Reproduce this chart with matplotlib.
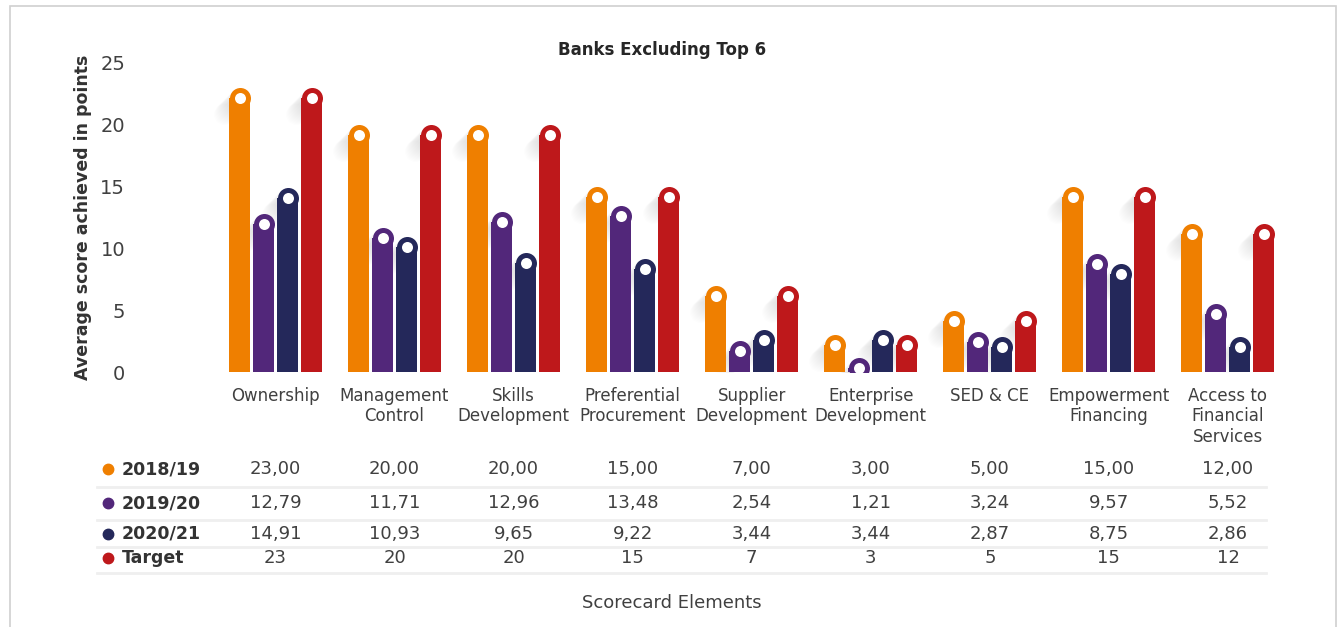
import matplotlib.pyplot as plt
import matplotlib.transforms as mtransforms
from matplotlib.lines import Line2D
from matplotlib.patches import Rectangle

categories = ["Ownership", "Management\nControl", "Skills\nDevelopment",
              "Preferential\nProcurement", "Supplier\nDevelopment",
              "Enterprise\nDevelopment", "SED & CE", "Empowerment\nFinancing",
              "Access to\nFinancial\nServices"]
series_names = ["2018/19", "2019/20", "2020/21", "Target"]
scores_1819 = [23.00, 20.00, 20.00, 15.00, 7.00, 3.00, 5.00, 15.00, 12.00]
scores_1920 = [12.79, 11.71, 12.96, 13.48, 2.54, 1.21, 3.24, 9.57, 5.52]
scores_2021 = [14.91, 10.93, 9.65, 9.22, 3.44, 3.44, 2.87, 8.75, 2.86]
target = [23, 20, 20, 15, 7, 3, 5, 15, 12]

colors = ["#EF7F00", "#52277A", "#24285A", "#BE181B"]
text_col = "#404040"

W, H, DPI = 1341, 627, 100
fig = plt.figure(figsize=(W / DPI, H / DPI), dpi=DPI)
plt.rcParams["font.family"] = ["DejaVu Sans"]

# axes placed in pixel terms
x_left, x_right = 200, 1300
y_top, y_zero = 63, 372
ax = fig.add_axes([x_left / W, 1 - y_zero / H, (x_right - x_left) / W, (y_zero - y_top) / H])
pitch_px = 119.06
first_px = 275.5
ax.set_xlim((x_left - first_px) / pitch_px, (x_right - first_px) / pitch_px)
ax.set_ylim(0, 25)
for s in ax.spines.values():
    s.set_visible(False)
ax.set_xticks([])
ax.set_yticks(range(0, 26, 5))
ax.tick_params(axis="y", length=0, pad=54, labelsize=14, labelcolor=text_col)

px_x = pitch_px                      # pixels per x unit
px_y = (y_zero - y_top) / 25.0       # pixels per y unit
bar_w_px, bar_gap_px = 21, 24
cap_d_pt = bar_w_px * 72 / DPI
dot_d_pt = 11 * 72 / DPI
r_y = (bar_w_px / 2) / px_y

all_series = [scores_1819, scores_1920, scores_2021, target]
for j, (vals, col) in enumerate(zip(all_series, colors)):
    xs = [i + (j - 1.5) * bar_gap_px / px_x for i in range(len(vals))]
    centers = [v - r_y for v in vals]
    # soft long shadow behind each cap
    for k in range(1, 17):
        ax.scatter([x - k * 1.0 / px_x for x in xs], [c - k * 1.0 / px_y for c in centers],
                   s=cap_d_pt ** 2, color="black", alpha=0.009, lw=0, zorder=1)
    ax.bar(xs, [max(c, 0) for c in centers], width=bar_w_px / px_x, color=col,
           edgecolor="none", zorder=2)
    ax.scatter(xs, centers, s=cap_d_pt ** 2, color=col, lw=0, zorder=3)
    ax.scatter(xs, centers, s=dot_d_pt ** 2, color="white", lw=0, zorder=4)

ax.set_ylabel("Average score achieved in points", fontsize=12.5, fontweight="bold",
              color="#333333")
ax.yaxis.set_label_coords((92 - x_left) / (x_right - x_left), 0.5)
fig.text(662 / W, 1 - 50 / H, "Banks Excluding Top 6", ha="center", va="center",
         fontsize=12, fontweight="bold", color="#262626")

# category names under the groups
trans = mtransforms.blended_transform_factory(ax.transData, fig.transFigure)
for i, name in enumerate(categories):
    ax.text(i, 1 - 387 / H, name, transform=trans, ha="center", va="top",
            fontsize=12, color=text_col, linespacing=1.17, clip_on=False)

# data table
row_y = [469, 503, 534, 558]
sep_y = [487, 520, 547, 573]
for j, (name, vals, col) in enumerate(zip(series_names, all_series, colors)):
    yf = 1 - row_y[j] / H
    fig.text(122 / W, yf, name, ha="left", va="center", fontsize=12.5,
             fontweight="bold", color="#333333")
    fig.add_artist(Line2D([108 / W], [yf], marker="o", markersize=7.5, color=col,
                          lw=0, transform=fig.transFigure))
    for i, v in enumerate(vals):
        s = str(v) if j == 3 else f"{v:.2f}".replace(".", ",")
        ax.text(i, yf, s, transform=trans, ha="center", va="center",
                fontsize=13, color=text_col, clip_on=False)
for y in sep_y:
    fig.add_artist(Line2D([97 / W, 1266 / W], [1 - y / H] * 2, color="#efefef", lw=2))

fig.text(672 / W, 1 - 603 / H, "Scorecard Elements", ha="center", va="center",
         fontsize=13, color=text_col)

# outer frame
fig.add_artist(Rectangle((10 / W, -0.02), (1336 - 10) / W, 1 - 6 / H + 0.02,
                         transform=fig.transFigure, fill=False, edgecolor="#d0d0d0", lw=1.2))

fig.savefig("out.png", dpi=DPI)
